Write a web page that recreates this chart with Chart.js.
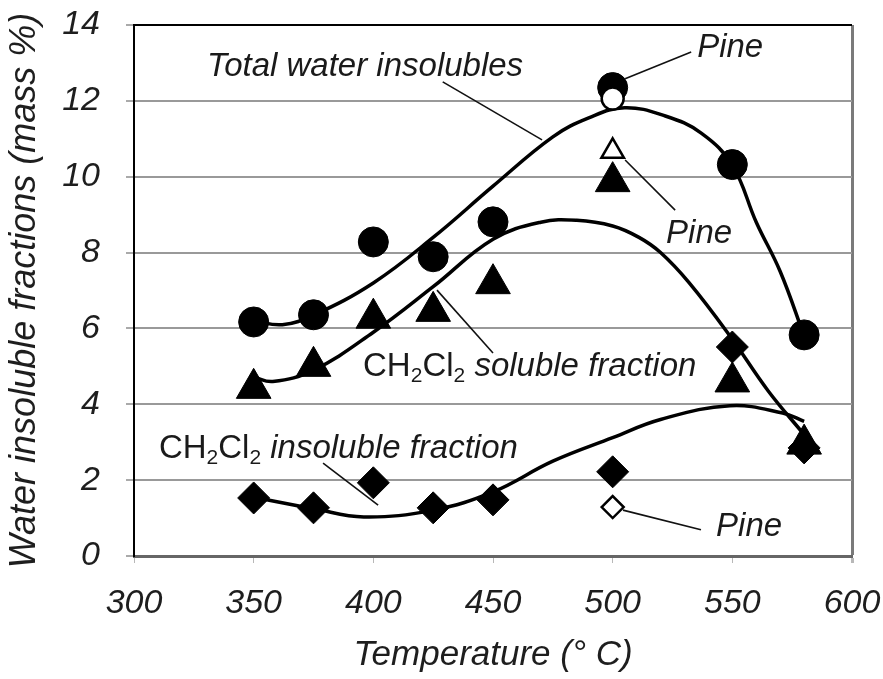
<!DOCTYPE html>
<html>
<head>
<meta charset="utf-8">
<script src="https://cdn.jsdelivr.net/npm/chart.js@4"></script>
<style>
  html, body { margin: 0; padding: 0; background: #fff; }
  #wrap { width: 883px; height: 679px; }
</style>
</head>
<body>
<div id="wrap"><canvas id="insolubles" width="883" height="679"></canvas></div>
<script>
// measured fractions (mass %) at each pyrolysis temperature
const temps = [350, 375, 400, 425, 450, 500, 550, 580];
const totalInsolubles = [6.17, 6.36, 8.28, 7.89, 8.81, 12.35, 10.32, 5.83];
const solubleFraction = [4.42, 5.0, 6.27, 6.45, 7.18, 9.87, 4.59, 2.95];
const insolubleFraction = [1.53, 1.27, 1.93, 1.27, 1.48, 2.22, 5.51, 2.85];

// pine run at 500 C
const pineTemp = [500];
const pineTotal = [12.06];
const pineSoluble = [10.67];
const pineInsoluble = [1.29];

// fitted trend curves
const totalCurveT = [350, 362, 375, 400, 425, 450, 475, 490, 505, 522, 537, 550, 560, 570, 580];
const totalCurve = [6.2, 6.1, 6.35, 7.2, 8.4, 9.75, 11.05, 11.55, 11.82, 11.6, 11.15, 10.3, 8.8, 7.5, 5.8];
const solubleCurveT = [350, 358, 375, 400, 425, 450, 470, 485, 500, 511, 520, 532, 549, 565, 580];
const solubleCurve = [4.72, 4.6, 4.9, 5.9, 7.1, 8.35, 8.8, 8.85, 8.7, 8.4, 8.0, 7.2, 5.8, 4.35, 3.2];
const insolubleCurveT = [350, 375, 396, 425, 450, 475, 500, 520, 549, 571, 580];
const insolubleCurve = [1.55, 1.25, 1.03, 1.21, 1.69, 2.5, 3.12, 3.6, 3.96, 3.77, 3.55];

const xTicks = [300, 350, 400, 450, 500, 550, 600];

const FONT = "'Liberation Sans', Arial, sans-serif";

function pts(xs, ys) {
    return xs.map((x, i) => ({ x: x, y: ys[i] }));
}

function curve(xs, ys) {
    return {
        data: pts(xs, ys),
        showLine: true,
        borderColor: '#000',
        borderWidth: 3.5,
        pointRadius: 0,
        tension: 0.4,
        order: 10
    };
}

function markers(xs, ys, style, radius, order) {
    return {
        data: pts(xs, ys),
        showLine: false,
        pointStyle: style,
        pointRadius: radius,
        backgroundColor: '#000',
        borderColor: '#000',
        borderWidth: 1,
        order: order
    };
}

function openMarkers(xs, ys, style, radius) {
    return {
        data: pts(xs, ys),
        showLine: false,
        pointStyle: style,
        pointRadius: radius,
        backgroundColor: '#fff',
        borderColor: '#000',
        borderWidth: 2.5,
        order: 1
    };
}

// callout labels: text runs are [text, kind] with kind i = italic, n = upright, s = subscript
const callouts = [
    { runs: [['Total water insolubles', 'i']], at: [330.5, 12.89], line: [[429, 12.5], [470.5, 10.97]] },
    { runs: [['Pine', 'i']], at: [535.3, 13.39], line: [[505.2, 12.58], [532.8, 13.29]] },
    { runs: [['Pine', 'i']], at: [522.3, 8.49], line: [[505.2, 10.44], [526.1, 9.12]] },
    { runs: [['CH', 'n'], ['2', 's'], ['Cl', 'n'], ['2', 's'], [' soluble fraction', 'i']], at: [395.7, 4.98], line: [[426.6, 7.01], [450, 5.35]] },
    { runs: [['CH', 'n'], ['2', 's'], ['Cl', 'n'], ['2', 's'], [' insoluble fraction', 'i']], at: [310.4, 2.82], line: [[379, 2.45], [402, 1.34]] },
    { runs: [['Pine', 'i']], at: [543.2, 0.76], line: [[504.3, 1.21], [536.9, 0.69]] }
];

const calloutPlugin = {
    id: 'callouts',
    afterDatasetsDraw(chart) {
        const ctx = chart.ctx;
        const xs = chart.scales.x, ys = chart.scales.y;
        ctx.save();
        ctx.strokeStyle = '#111';
        ctx.lineWidth = 1.6;
        ctx.fillStyle = '#1a1a1a';
        ctx.textBaseline = 'middle';
        ctx.textAlign = 'left';
        callouts.forEach(c => {
            ctx.beginPath();
            ctx.moveTo(xs.getPixelForValue(c.line[0][0]), ys.getPixelForValue(c.line[0][1]));
            ctx.lineTo(xs.getPixelForValue(c.line[1][0]), ys.getPixelForValue(c.line[1][1]));
            ctx.stroke();

            let px = xs.getPixelForValue(c.at[0]);
            const py = ys.getPixelForValue(c.at[1]);
            c.runs.forEach(r => {
                let dy = 0;
                if (r[1] === 'i') ctx.font = 'italic 33px ' + FONT;
                else if (r[1] === 'n') ctx.font = '33px ' + FONT;
                else { ctx.font = '21px ' + FONT; dy = 9; }
                ctx.fillText(r[0], px, py + dy);
                px += ctx.measureText(r[0]).width;
            });
        });
        ctx.restore();
    }
};

new Chart(document.getElementById('insolubles'), {
    type: 'scatter',
    data: {
        datasets: [
            curve(totalCurveT, totalCurve),
            curve(solubleCurveT, solubleCurve),
            curve(insolubleCurveT, insolubleCurve),
            markers(temps, solubleFraction, 'triangle', 20, 4),
            markers(temps, totalInsolubles, 'circle', 15, 3),
            markers(temps, insolubleFraction, 'rectRot', 16, 2),
            openMarkers(pineTemp, pineTotal, 'circle', 11),
            openMarkers(pineTemp, pineSoluble, 'triangle', 13),
            openMarkers(pineTemp, pineInsoluble, 'rectRot', 11)
        ]
    },
    options: {
        responsive: false,
        animation: false,
        layout: { padding: { top: 25, right: 31, left: 0, bottom: 0 } },
        plugins: {
            legend: { display: false },
            tooltip: { enabled: false }
        },
        scales: {
            x: {
                type: 'linear',
                min: 300,
                max: 600,
                afterFit: (scale) => {
                    scale.height = 123;
                    scale.paddingLeft = 0;
                    scale.paddingRight = 0;
                },
                afterBuildTicks: (scale) => { scale.ticks = xTicks.map(v => ({ value: v })); },
                ticks: {
                    color: '#1e1e1e',
                    padding: 20,
                    font: { family: FONT, size: 34, style: 'italic' }
                },
                grid: {
                    drawOnChartArea: true,
                    color: (c) => c.tick && c.tick.value === 600 ? '#7a7a7a' : 'rgba(0,0,0,0)',
                    lineWidth: (c) => c.tick && c.tick.value === 600 ? 3 : 1,
                    tickColor: '#b8b8b8',
                    tickLength: 7
                },
                border: { display: true, color: '#666', width: 3 },
                title: {
                    display: true,
                    text: 'Temperature (\u00B0 C)',
                    color: '#1e1e1e',
                    padding: { top: 0, bottom: 3 },
                    font: { family: FONT, size: 35, style: 'italic' }
                }
            },
            y: {
                min: 0,
                max: 14,
                afterFit: (scale) => {
                    scale.width = 134;
                    scale.paddingTop = 0;
                    scale.paddingBottom = 0;
                },
                ticks: {
                    stepSize: 2,
                    color: '#1e1e1e',
                    padding: 26,
                    font: { family: FONT, size: 34, style: 'italic' }
                },
                grid: {
                    color: (c) => {
                        if (!c.tick) return '#999';
                        if (c.tick.value === 14) return '#000';
                        if (c.tick.value === 0) return 'rgba(0,0,0,0)';
                        return '#999';
                    },
                    lineWidth: 2,
                    tickColor: '#aaa',
                    tickLength: 8
                },
                border: { display: true, color: '#000', width: 2 },
                title: {
                    display: true,
                    text: 'Water insoluble fractions (mass %)',
                    color: '#1e1e1e',
                    padding: { top: 3, bottom: 0 },
                    font: { family: FONT, size: 36, style: 'italic' }
                }
            }
        }
    },
    plugins: [calloutPlugin]
});
</script>
</body>
</html>
